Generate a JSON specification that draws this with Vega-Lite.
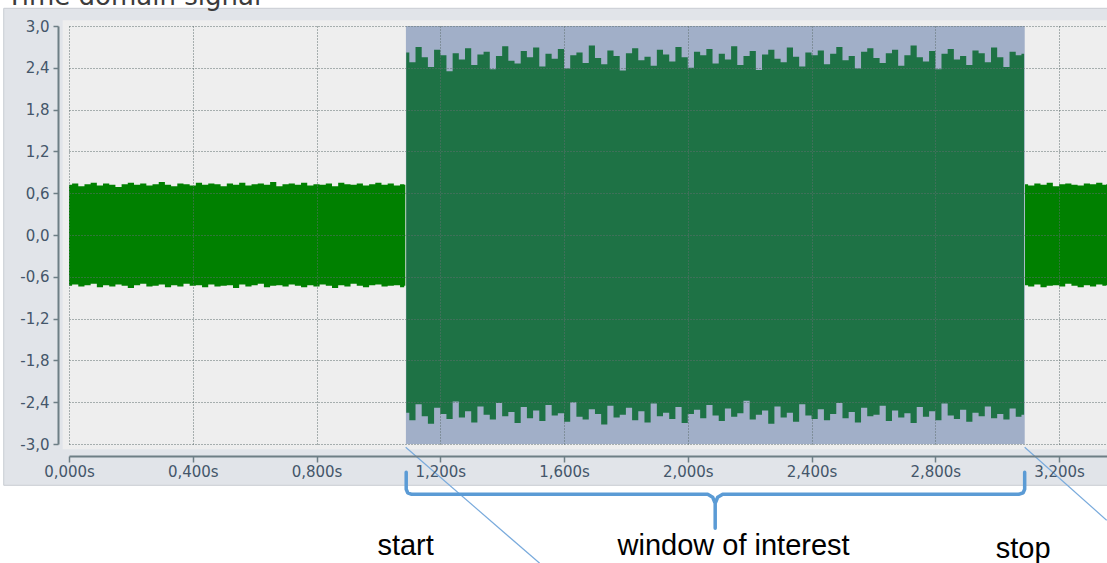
{
  "$schema": "https://vega.github.io/schema/vega-lite/v6.json",
  "width": 1038,
  "height": 418,
  "autosize": {"type": "none"},
  "padding": {"left": 69, "top": 26, "right": 0, "bottom": 119},
  "background": "white",
  "config": {
    "view": {"stroke": null},
    "locale": {"number": {"decimal": ",", "thousands": ".", "grouping": [3], "currency": ["", " €"], "minus": "-"}}
  },
  "resolve": {"axis": {"x": "independent", "y": "independent"}},
  "layer": [
    {
      "data": {"values": [{"x1": -0.211, "x2": 3.36, "y1": 3.254, "y2": -3.593}]},
      "mark": {"type": "rect", "color": "#e1e4e9", "stroke": "#c8ccd2", "strokeWidth": 1, "clip": false},
      "encoding": {
        "x": {"field": "x1", "type": "quantitative", "scale": {"domain": [0, 3.355], "nice": false, "zero": false}, "axis": null},
        "x2": {"field": "x2"},
        "y": {"field": "y1", "type": "quantitative", "scale": {"domain": [-3, 3], "nice": false, "zero": false}, "axis": null},
        "y2": {"field": "y2"}
      }
    },
    {
      "data": {"values": [{"x1": -0.0204, "x2": 3.36, "y1": 3.082, "y2": -3.076}]},
      "mark": {"type": "rect", "color": "#eeeeee", "clip": false},
      "encoding": {
        "x": {"field": "x1", "type": "quantitative", "scale": {"domain": [0, 3.355], "nice": false, "zero": false}, "axis": null},
        "x2": {"field": "x2"},
        "y": {"field": "y1", "type": "quantitative", "scale": {"domain": [-3, 3], "nice": false, "zero": false}, "axis": null},
        "y2": {"field": "y2"}
      }
    },
    {
      "data": {"values": [
        {"s":"a","t":0,"hi":0.72,"lo":-0.73},{"s":"a","t":0.02,"hi":0.74,"lo":-0.71},{"s":"a","t":0.04,"hi":0.70,"lo":-0.74},{"s":"a","t":0.06,"hi":0.73,"lo":-0.72},{"s":"a","t":0.08,"hi":0.75,"lo":-0.70},
        {"s":"a","t":0.10,"hi":0.71,"lo":-0.75},{"s":"a","t":0.12,"hi":0.74,"lo":-0.72},{"s":"a","t":0.14,"hi":0.72,"lo":-0.74},{"s":"a","t":0.16,"hi":0.69,"lo":-0.71},{"s":"a","t":0.18,"hi":0.73,"lo":-0.73},
        {"s":"a","t":0.20,"hi":0.75,"lo":-0.76},{"s":"a","t":0.22,"hi":0.72,"lo":-0.72},{"s":"a","t":0.24,"hi":0.74,"lo":-0.70},{"s":"a","t":0.26,"hi":0.71,"lo":-0.74},{"s":"a","t":0.28,"hi":0.73,"lo":-0.73},
        {"s":"a","t":0.30,"hi":0.76,"lo":-0.71},{"s":"a","t":0.32,"hi":0.72,"lo":-0.75},{"s":"a","t":0.34,"hi":0.70,"lo":-0.72},{"s":"a","t":0.36,"hi":0.74,"lo":-0.74},{"s":"a","t":0.38,"hi":0.73,"lo":-0.70},
        {"s":"a","t":0.40,"hi":0.71,"lo":-0.73},{"s":"a","t":0.42,"hi":0.75,"lo":-0.72},{"s":"a","t":0.44,"hi":0.72,"lo":-0.75},{"s":"a","t":0.46,"hi":0.74,"lo":-0.71},{"s":"a","t":0.48,"hi":0.73,"lo":-0.74},
        {"s":"a","t":0.50,"hi":0.70,"lo":-0.73},{"s":"a","t":0.52,"hi":0.74,"lo":-0.72},{"s":"a","t":0.54,"hi":0.72,"lo":-0.76},{"s":"a","t":0.56,"hi":0.75,"lo":-0.71},{"s":"a","t":0.58,"hi":0.71,"lo":-0.74},
        {"s":"a","t":0.60,"hi":0.73,"lo":-0.72},{"s":"a","t":0.62,"hi":0.74,"lo":-0.70},{"s":"a","t":0.64,"hi":0.72,"lo":-0.75},{"s":"a","t":0.66,"hi":0.76,"lo":-0.73},{"s":"a","t":0.68,"hi":0.70,"lo":-0.72},
        {"s":"a","t":0.70,"hi":0.73,"lo":-0.74},{"s":"a","t":0.72,"hi":0.74,"lo":-0.71},{"s":"a","t":0.74,"hi":0.72,"lo":-0.73},{"s":"a","t":0.76,"hi":0.75,"lo":-0.75},{"s":"a","t":0.78,"hi":0.71,"lo":-0.72},
        {"s":"a","t":0.80,"hi":0.73,"lo":-0.74},{"s":"a","t":0.82,"hi":0.72,"lo":-0.71},{"s":"a","t":0.84,"hi":0.74,"lo":-0.73},{"s":"a","t":0.86,"hi":0.70,"lo":-0.76},{"s":"a","t":0.88,"hi":0.75,"lo":-0.72},
        {"s":"a","t":0.90,"hi":0.73,"lo":-0.74},{"s":"a","t":0.92,"hi":0.72,"lo":-0.70},{"s":"a","t":0.94,"hi":0.74,"lo":-0.73},{"s":"a","t":0.96,"hi":0.71,"lo":-0.75},{"s":"a","t":0.98,"hi":0.73,"lo":-0.72},
        {"s":"a","t":1.00,"hi":0.75,"lo":-0.71},{"s":"a","t":1.02,"hi":0.72,"lo":-0.74},{"s":"a","t":1.04,"hi":0.74,"lo":-0.73},{"s":"a","t":1.06,"hi":0.71,"lo":-0.72},{"s":"a","t":1.08,"hi":0.73,"lo":-0.75},
        {"s":"a","t":1.087,"hi":0.72,"lo":-0.73},
        {"s":"b","t":1.09,"hi":2.62,"lo":-2.55},{"s":"b","t":1.11,"hi":2.48,"lo":-2.66},{"s":"b","t":1.13,"hi":2.70,"lo":-2.43},{"s":"b","t":1.15,"hi":2.55,"lo":-2.60},{"s":"b","t":1.17,"hi":2.41,"lo":-2.71},
        {"s":"b","t":1.19,"hi":2.66,"lo":-2.48},{"s":"b","t":1.21,"hi":2.58,"lo":-2.57},{"s":"b","t":1.23,"hi":2.35,"lo":-2.64},{"s":"b","t":1.25,"hi":2.61,"lo":-2.39},{"s":"b","t":1.27,"hi":2.52,"lo":-2.62},
        {"s":"b","t":1.29,"hi":2.68,"lo":-2.53},{"s":"b","t":1.31,"hi":2.44,"lo":-2.69},{"s":"b","t":1.33,"hi":2.59,"lo":-2.46},{"s":"b","t":1.35,"hi":2.63,"lo":-2.58},{"s":"b","t":1.37,"hi":2.38,"lo":-2.65},
        {"s":"b","t":1.39,"hi":2.57,"lo":-2.41},{"s":"b","t":1.41,"hi":2.71,"lo":-2.60},{"s":"b","t":1.43,"hi":2.50,"lo":-2.54},{"s":"b","t":1.45,"hi":2.46,"lo":-2.70},{"s":"b","t":1.47,"hi":2.64,"lo":-2.47},
        {"s":"b","t":1.49,"hi":2.55,"lo":-2.63},{"s":"b","t":1.51,"hi":2.69,"lo":-2.52},{"s":"b","t":1.53,"hi":2.42,"lo":-2.67},{"s":"b","t":1.55,"hi":2.60,"lo":-2.44},{"s":"b","t":1.57,"hi":2.53,"lo":-2.59},
        {"s":"b","t":1.59,"hi":2.67,"lo":-2.56},{"s":"b","t":1.61,"hi":2.39,"lo":-2.68},{"s":"b","t":1.63,"hi":2.58,"lo":-2.40},{"s":"b","t":1.65,"hi":2.62,"lo":-2.61},{"s":"b","t":1.67,"hi":2.47,"lo":-2.65},
        {"s":"b","t":1.69,"hi":2.72,"lo":-2.50},{"s":"b","t":1.71,"hi":2.54,"lo":-2.57},{"s":"b","t":1.73,"hi":2.45,"lo":-2.72},{"s":"b","t":1.75,"hi":2.65,"lo":-2.45},{"s":"b","t":1.77,"hi":2.57,"lo":-2.62},
        {"s":"b","t":1.79,"hi":2.36,"lo":-2.58},{"s":"b","t":1.81,"hi":2.61,"lo":-2.48},{"s":"b","t":1.83,"hi":2.68,"lo":-2.66},{"s":"b","t":1.85,"hi":2.51,"lo":-2.53},{"s":"b","t":1.87,"hi":2.56,"lo":-2.69},
        {"s":"b","t":1.89,"hi":2.43,"lo":-2.42},{"s":"b","t":1.91,"hi":2.66,"lo":-2.60},{"s":"b","t":1.93,"hi":2.59,"lo":-2.55},{"s":"b","t":1.95,"hi":2.49,"lo":-2.64},{"s":"b","t":1.97,"hi":2.70,"lo":-2.47},
        {"s":"b","t":1.99,"hi":2.55,"lo":-2.70},{"s":"b","t":2.01,"hi":2.40,"lo":-2.57},{"s":"b","t":2.03,"hi":2.63,"lo":-2.51},{"s":"b","t":2.05,"hi":2.58,"lo":-2.63},{"s":"b","t":2.07,"hi":2.67,"lo":-2.44},
        {"s":"b","t":2.09,"hi":2.46,"lo":-2.59},{"s":"b","t":2.11,"hi":2.60,"lo":-2.67},{"s":"b","t":2.13,"hi":2.52,"lo":-2.49},{"s":"b","t":2.15,"hi":2.71,"lo":-2.61},{"s":"b","t":2.17,"hi":2.44,"lo":-2.56},
        {"s":"b","t":2.19,"hi":2.57,"lo":-2.38},{"s":"b","t":2.21,"hi":2.64,"lo":-2.65},{"s":"b","t":2.23,"hi":2.37,"lo":-2.58},{"s":"b","t":2.25,"hi":2.59,"lo":-2.52},{"s":"b","t":2.27,"hi":2.66,"lo":-2.71},
        {"s":"b","t":2.29,"hi":2.53,"lo":-2.46},{"s":"b","t":2.31,"hi":2.48,"lo":-2.62},{"s":"b","t":2.33,"hi":2.69,"lo":-2.55},{"s":"b","t":2.35,"hi":2.56,"lo":-2.68},{"s":"b","t":2.37,"hi":2.42,"lo":-2.43},
        {"s":"b","t":2.39,"hi":2.62,"lo":-2.59},{"s":"b","t":2.41,"hi":2.58,"lo":-2.64},{"s":"b","t":2.43,"hi":2.65,"lo":-2.50},{"s":"b","t":2.45,"hi":2.45,"lo":-2.66},{"s":"b","t":2.47,"hi":2.60,"lo":-2.57},
        {"s":"b","t":2.49,"hi":2.70,"lo":-2.41},{"s":"b","t":2.51,"hi":2.51,"lo":-2.63},{"s":"b","t":2.53,"hi":2.57,"lo":-2.54},{"s":"b","t":2.55,"hi":2.39,"lo":-2.69},{"s":"b","t":2.57,"hi":2.63,"lo":-2.48},
        {"s":"b","t":2.59,"hi":2.68,"lo":-2.60},{"s":"b","t":2.61,"hi":2.54,"lo":-2.58},{"s":"b","t":2.63,"hi":2.47,"lo":-2.45},{"s":"b","t":2.65,"hi":2.61,"lo":-2.67},{"s":"b","t":2.67,"hi":2.66,"lo":-2.52},
        {"s":"b","t":2.69,"hi":2.43,"lo":-2.62},{"s":"b","t":2.71,"hi":2.58,"lo":-2.56},{"s":"b","t":2.73,"hi":2.72,"lo":-2.70},{"s":"b","t":2.75,"hi":2.55,"lo":-2.47},{"s":"b","t":2.77,"hi":2.49,"lo":-2.61},
        {"s":"b","t":2.79,"hi":2.64,"lo":-2.53},{"s":"b","t":2.81,"hi":2.38,"lo":-2.66},{"s":"b","t":2.83,"hi":2.60,"lo":-2.42},{"s":"b","t":2.85,"hi":2.67,"lo":-2.59},{"s":"b","t":2.87,"hi":2.52,"lo":-2.64},
        {"s":"b","t":2.89,"hi":2.57,"lo":-2.51},{"s":"b","t":2.91,"hi":2.44,"lo":-2.68},{"s":"b","t":2.93,"hi":2.65,"lo":-2.55},{"s":"b","t":2.95,"hi":2.61,"lo":-2.60},{"s":"b","t":2.97,"hi":2.48,"lo":-2.46},
        {"s":"b","t":2.99,"hi":2.69,"lo":-2.63},{"s":"b","t":3.01,"hi":2.55,"lo":-2.57},{"s":"b","t":3.03,"hi":2.41,"lo":-2.65},{"s":"b","t":3.05,"hi":2.63,"lo":-2.49},{"s":"b","t":3.07,"hi":2.58,"lo":-2.61},
        {"s":"b","t":3.087,"hi":2.60,"lo":-2.58},
        {"s":"c","t":3.09,"hi":0.73,"lo":-0.72},{"s":"c","t":3.11,"hi":0.71,"lo":-0.74},{"s":"c","t":3.13,"hi":0.74,"lo":-0.71},{"s":"c","t":3.15,"hi":0.72,"lo":-0.75},{"s":"c","t":3.17,"hi":0.75,"lo":-0.73},
        {"s":"c","t":3.19,"hi":0.70,"lo":-0.72},{"s":"c","t":3.21,"hi":0.73,"lo":-0.74},{"s":"c","t":3.23,"hi":0.74,"lo":-0.70},{"s":"c","t":3.25,"hi":0.72,"lo":-0.73},{"s":"c","t":3.27,"hi":0.71,"lo":-0.75},
        {"s":"c","t":3.29,"hi":0.74,"lo":-0.72},{"s":"c","t":3.31,"hi":0.73,"lo":-0.74},{"s":"c","t":3.33,"hi":0.75,"lo":-0.71},{"s":"c","t":3.35,"hi":0.72,"lo":-0.73},{"s":"c","t":3.355,"hi":0.73,"lo":-0.72}
      ]},
      "mark": {"type": "area", "color": "#008000", "interpolate": "step", "opacity": 1, "clip": true},
      "encoding": {
        "x": {"field": "t", "type": "quantitative", "scale": {"domain": [0, 3.355], "nice": false, "zero": false},
          "axis": {"orient": "bottom", "zindex": 1, "offset": 12, "values": [0, 0.4, 0.8, 1.2, 1.6, 2.0, 2.4, 2.8, 3.2], "format": ".3f", "labelExpr": "datum.label + 's'",
            "title": null, "grid": true, "gridColor": "#5f6e6e", "gridDash": [1, 2], "gridWidth": 1,
            "domainColor": "#6d7e85", "domainWidth": 2, "tickColor": "#6d7e85", "tickWidth": 1.5, "tickSize": 6,
            "labelFont": "DejaVu Sans", "labelFontSize": 15, "labelColor": "#44566a", "labelPadding": 2, "labelFlush": false}},
        "y": {"field": "hi", "type": "quantitative", "scale": {"domain": [-3, 3], "nice": false, "zero": false},
          "axis": {"orient": "left", "zindex": 1, "offset": 11, "values": [-3, -2.4, -1.8, -1.2, -0.6, 0, 0.6, 1.2, 1.8, 2.4, 3], "format": ".1f",
            "title": null, "grid": true, "gridColor": "#5f6e6e", "gridDash": [1, 2], "gridWidth": 1,
            "domainColor": "#6d7e85", "domainWidth": 2, "tickColor": "#6d7e85", "tickWidth": 1.5, "tickSize": 5,
            "labelFont": "DejaVu Sans", "labelFontSize": 15, "labelColor": "#44566a", "labelPadding": 4, "labelFlush": false}},
        "y2": {"field": "lo"},
        "detail": {"field": "s"}
      }
    },
    {
      "data": {"values": [{"x1": 1.089, "x2": 3.089, "y1": 3, "y2": -3}]},
      "mark": {"type": "rect", "color": "#42619a", "opacity": 0.45},
      "encoding": {
        "x": {"field": "x1", "type": "quantitative", "scale": {"domain": [0, 3.355], "nice": false, "zero": false}, "axis": null},
        "x2": {"field": "x2"},
        "y": {"field": "y1", "type": "quantitative", "scale": {"domain": [-3, 3], "nice": false, "zero": false}, "axis": null},
        "y2": {"field": "y2"}
      }
    },
    {
      "data": {"values": [
        {"x1": 1.0882, "y1": -3.047, "x2": 1.5213, "y2": -4.712},
        {"x1": 3.0889, "y1": -3.047, "x2": 3.354, "y2": -4.095}
      ]},
      "mark": {"type": "rule", "color": "#79aadc", "strokeWidth": 1.2, "clip": false},
      "encoding": {
        "x": {"field": "x1", "type": "quantitative", "scale": {"domain": [0, 3.355], "nice": false, "zero": false}, "axis": null},
        "x2": {"field": "x2"},
        "y": {"field": "y1", "type": "quantitative", "scale": {"domain": [-3, 3], "nice": false, "zero": false}, "axis": null},
        "y2": {"field": "y2"}
      }
    },
    {
      "data": {"values": [
        {"i": 1, "bx": 1.0899, "by": -3.406}, {"i": 2, "bx": 1.0899, "by": -3.650}, {"i": 3, "bx": 1.0947, "by": -3.700},
        {"i": 4, "bx": 1.1076, "by": -3.722}, {"i": 5, "bx": 2.0643, "by": -3.722}, {"i": 6, "bx": 2.0805, "by": -3.765},
        {"i": 7, "bx": 2.0886, "by": -3.851}, {"i": 8, "bx": 2.0886, "by": -4.210}, {"i": 9, "bx": 2.0886, "by": -3.851},
        {"i": 10, "bx": 2.0967, "by": -3.765}, {"i": 11, "bx": 2.1128, "by": -3.722}, {"i": 12, "bx": 3.0695, "by": -3.722},
        {"i": 13, "bx": 3.0840, "by": -3.700}, {"i": 14, "bx": 3.0889, "by": -3.650}, {"i": 15, "bx": 3.0889, "by": -3.406}
      ]},
      "mark": {"type": "line", "color": "#5b9bd5", "strokeWidth": 3.5, "strokeCap": "round", "strokeJoin": "round", "clip": false},
      "encoding": {
        "x": {"field": "bx", "type": "quantitative", "scale": {"domain": [0, 3.355], "nice": false, "zero": false}, "axis": null},
        "y": {"field": "by", "type": "quantitative", "scale": {"domain": [-3, 3], "nice": false, "zero": false}, "axis": null},
        "order": {"field": "i", "type": "quantitative"}
      }
    },
    {
      "data": {"values": [
        {"label": "start", "tx": 1.088, "ty": -4.464},
        {"label": "window of interest", "tx": 2.148, "ty": -4.464},
        {"label": "stop", "tx": 3.084, "ty": -4.507}
      ]},
      "mark": {"type": "text", "font": "Liberation Sans", "fontSize": 29, "color": "#000000", "align": "center", "baseline": "middle", "clip": false},
      "encoding": {
        "x": {"field": "tx", "type": "quantitative", "scale": {"domain": [0, 3.355], "nice": false, "zero": false}, "axis": null},
        "y": {"field": "ty", "type": "quantitative", "scale": {"domain": [-3, 3], "nice": false, "zero": false}, "axis": null},
        "text": {"field": "label"}
      }
    },
    {
      "data": {"values": [{"label": "Time domain signal", "tx": -0.2014, "ty": 3.297}]},
      "mark": {"type": "text", "font": "DejaVu Sans", "fontSize": 26, "color": "#3c3c3c", "align": "left", "baseline": "alphabetic", "clip": false},
      "encoding": {
        "x": {"field": "tx", "type": "quantitative", "scale": {"domain": [0, 3.355], "nice": false, "zero": false}, "axis": null},
        "y": {"field": "ty", "type": "quantitative", "scale": {"domain": [-3, 3], "nice": false, "zero": false}, "axis": null},
        "text": {"field": "label"}
      }
    }
  ]
}
